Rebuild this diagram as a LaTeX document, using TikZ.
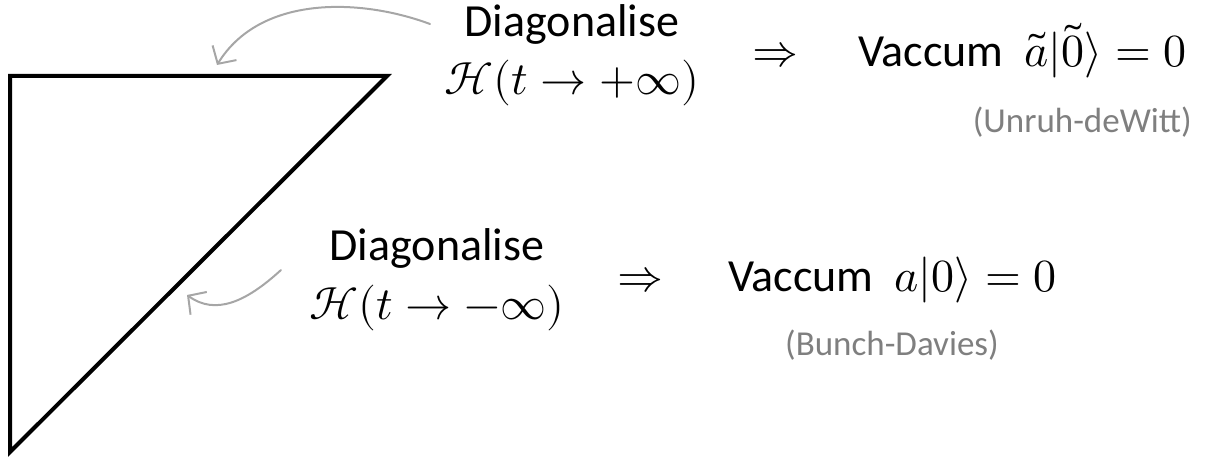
\documentclass[tikz,border=0pt]{standalone}
\usepackage{fontspec}
\usepackage{unicode-math}
\setmainfont{Carlito}
\setmathfont{Latin Modern Math}
\usetikzlibrary{arrows.meta}
\definecolor{notegray}{HTML}{7F7F7F}
\definecolor{arrowgray}{HTML}{A6A6A6}
\begin{document}
\begin{tikzpicture}[x=1pt,y=-1pt,
  main/.style={font=\fontsize{46}{56}\selectfont, inner sep=0pt},
  note/.style={font=\fontsize{35}{42}\selectfont, text=notegray, inner sep=0pt},
  pointer/.style={draw=arrowgray, line width=2pt, line cap=round,
    -{Straight Barb[length=13pt,width=28pt,line width=2pt]}},
  edge/.style={draw=black, line width=4pt, line join=miter}]
\useasboundingbox (0,0) rectangle (1218,457);
% triangle
\coordinate (tl) at (10,76);
\coordinate (tr) at (387,76);
\coordinate (bt) at (10,452);
\draw[edge] (tl) -- (tr) -- (bt) -- cycle;
% top row
\node[main, anchor=base] (d1) at (572,37) {Diagonalise};
\node[main, anchor=base] (h1) at (572,95) {$\mathcal{H}(t\to+\infty)$};
\node[main, anchor=base west] (imp1) at (752,67) {$\Rightarrow$};
\node[main, anchor=base west] (v1) at (858,67) {Vaccum\ \ $\tilde{a}|\tilde{0}\rangle=0$};
\node[note, anchor=base east] (u1) at (1192,133) {(Unruh-deWitt)};
% middle row
\node[main, anchor=base] (d2) at (437,261) {Diagonalise};
\node[main, anchor=base] (h2) at (437,319) {$\mathcal{H}(t\to-\infty)$};
\node[main, anchor=base west] (imp2) at (617,291) {$\Rightarrow$};
\node[main, anchor=base west] (v2) at (728,291) {Vaccum\ \ $a|0\rangle=0$};
\node[note, anchor=base west] (u2) at (785,355) {(Bunch-Davies)};
% pointers
\coordinate (s1) at (430,24);
\coordinate (t1) at (217,65);
\draw[pointer] (s1) .. controls (360,-2) and (260,-5) .. (t1);
\coordinate (s2) at (281,270);
\coordinate (t2) at (187,295);
\draw[pointer] (s2) .. controls (245,303) and (215,315) .. (t2);
\end{tikzpicture}
\end{document}
